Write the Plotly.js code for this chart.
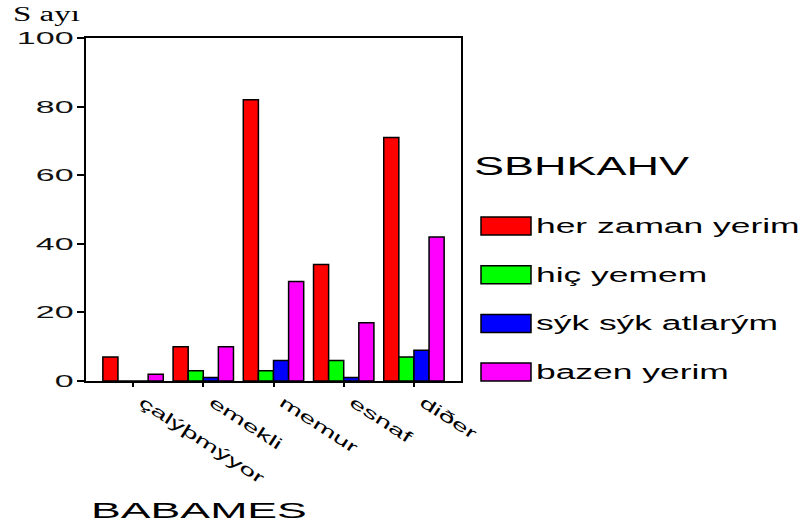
<!DOCTYPE html>
<html>
<head>
<meta charset="utf-8">
<script src="https://cdn.plot.ly/plotly-3.0.1.min.js"></script>
<style>html,body{margin:0;padding:0;background:#fff;}</style>
</head>
<body>
<div id="chart" style="width:803px;height:531px;"></div>
<script>
// ---- data ----
const categories = ["çalýþmýyor", "emekli", "memur", "esnaf", "diðer"];
const seriesNames = ["her zaman yerim", "hiç yemem", "sýk sýk atlarým", "bazen yerim"];
const herZaman = [7, 10, 82, 34, 71];
const hicYemem = [0, 3, 3, 6, 7];
const sikSik = [0, 1, 6, 1, 9];
const bazen = [2, 10, 29, 17, 42];
const yTicks = [0, 20, 40, 60, 80, 100];
const yTitle = "S ayı";
const xTitle = "BABAMES";
const legendTitle = "SBHKAHV";

const seriesValues = [herZaman, hicYemem, sikSik, bazen];
const colors = ["#ff0000", "#00ff00", "#0000ff", "#ff00ff"];

const W = 803, H = 531;
const M = {l: 86, r: 342, t: 38, b: 150};
const pw = W - M.l - M.r, ph = H - M.t - M.b;
const px2x = p => (p - M.l) / pw;
const px2y = p => (H - M.b - p) / ph;

const traces = seriesValues.map((vals, i) => ({
  type: "bar",
  x: categories,
  y: vals,
  name: seriesNames[i],
  marker: {color: colors[i], line: {color: "#000", width: 1.5}},
  hoverinfo: "none"
}));

const shapes = [];
const annotations = [];
const legTop0 = 217, legStep = 48.7, swH = 18;
seriesNames.forEach((n, i) => {
  const top = legTop0 + i * legStep;
  shapes.push({type: "rect", xref: "paper", yref: "paper",
    x0: px2x(481), x1: px2x(531), y0: px2y(top + swH), y1: px2y(top),
    fillcolor: colors[i], line: {color: "#000", width: 1.5}});
  annotations.push({xref: "paper", yref: "paper", x: px2x(534), y: px2y(top + swH / 2),
    xanchor: "left", yanchor: "middle", showarrow: false, text: n,
    font: {family: "Liberation Sans, Arial", size: 20, color: "#000"}, _stretch: 1.77});
});
annotations.push({xref: "paper", yref: "paper", x: px2x(472), y: px2y(166),
  xanchor: "left", yanchor: "middle", showarrow: false, text: legendTitle,
  font: {family: "Liberation Sans, Arial", size: 25, color: "#000"}, _stretch: 1.8});
annotations.push({xref: "paper", yref: "paper", x: px2x(11), y: px2y(15),
  xanchor: "left", yanchor: "middle", showarrow: false, text: yTitle,
  font: {family: "Liberation Serif, Times New Roman, serif", size: 20, color: "#000"}, _stretch: 1.65});
annotations.push({xref: "paper", yref: "paper", x: px2x(89), y: px2y(510),
  xanchor: "left", yanchor: "middle", showarrow: false, text: xTitle,
  font: {family: "Liberation Sans, Arial", size: 22, color: "#000"}, _stretch: 2.03});

const stretchFactors = annotations.map(a => a._stretch);
annotations.forEach(a => delete a._stretch);

const layout = {
  width: W, height: H,
  margin: M,
  paper_bgcolor: "#fff", plot_bgcolor: "#fff",
  showlegend: false,
  barmode: "group",
  bargap: 0.14, bargroupgap: 0,
  xaxis: {
    type: "category", range: [-0.67, 4.67],
    tickangle: 33, ticks: "outside", ticklen: 4, tickwidth: 2, tickcolor: "#000",
    ticklabelshift: 9,
    showline: true, mirror: true, linecolor: "#000", linewidth: 2,
    showgrid: false, zeroline: false,
    tickfont: {family: "Liberation Sans, Arial", size: 16, color: "#000"}
  },
  yaxis: {
    range: [0, 100], tickvals: yTicks, ticktext: yTicks.map(String),
    ticks: "outside", ticklen: 7, tickwidth: 2, tickcolor: "#000",
    showline: true, mirror: true, linecolor: "#000", linewidth: 2,
    showgrid: false, zeroline: false,
    tickfont: {family: "Liberation Sans, Arial", size: 17, color: "#111"}
  },
  shapes: shapes,
  annotations: annotations
};

function stretchText(t, f) {
  const w = t.getComputedTextLength();
  t.setAttribute("textLength", (w * f).toFixed(1));
  t.setAttribute("lengthAdjust", "spacingAndGlyphs");
  return w;
}

Plotly.newPlot("chart", traces, layout, {staticPlot: true}).then(() => {
  document.querySelectorAll(".ytick text").forEach(t => stretchText(t, 2.0));
  document.querySelectorAll(".xtick text").forEach(t => stretchText(t, 1.8));
  document.querySelectorAll(".annotation-text").forEach((t, i) => {
    const f = stretchFactors[i] || 1.7;
    const w = t.getComputedTextLength();
    const anchor = t.getAttribute("text-anchor") || getComputedStyle(t).textAnchor;
    const x = parseFloat(t.getAttribute("x") || "0");
    stretchText(t, f);
    if (anchor === "middle") {
      t.setAttribute("text-anchor", "start");
      t.style.textAnchor = "start";
      t.setAttribute("x", (x - w / 2).toFixed(1));
    }
  });
});
</script>
</body>
</html>
